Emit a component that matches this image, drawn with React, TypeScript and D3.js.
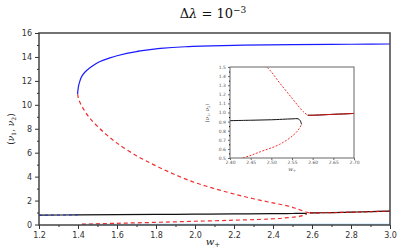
import { useEffect, useRef } from "react";
import * as d3 from "d3";

// upper stable branch (blue)
const wBlue = [1.398, 1.402, 1.41, 1.42, 1.44, 1.47, 1.51, 1.56, 1.6, 1.7, 1.8, 1.95, 2.2, 2.5, 2.8, 3.0];
const nuBlue = [10.9, 11.5, 12.0, 12.4, 12.8, 13.2, 13.6, 13.9, 14.1, 14.45, 14.68, 14.85, 14.97, 15.03, 15.06, 15.08];

// upper unstable branch (red dashed)
const wRedUp = [1.398, 1.405, 1.43, 1.46, 1.5, 1.55, 1.6, 1.7, 1.8, 1.9, 2.0, 2.1, 2.2, 2.3, 2.4, 2.489, 2.521, 2.553, 2.577, 2.588];
const nuRedUp = [10.9, 10.4, 9.6, 8.9, 8.2, 7.45, 6.8, 5.75, 4.9, 4.15, 3.5, 3.0, 2.55, 2.15, 1.8, 1.5, 1.32, 1.14, 1.01, 0.97];

// lower unstable branch (red dashed)
const wRedLow = [1.42, 1.6, 1.8, 2.0, 2.2, 2.34, 2.43, 2.474, 2.52, 2.553, 2.567, 2.573];
const nuRedLow = [0.03, 0.1, 0.18, 0.27, 0.36, 0.43, 0.5, 0.57, 0.65, 0.75, 0.82, 0.87];

// lower stable branch (black)
const wBlack = [1.2, 1.4, 1.6, 1.8, 2.0, 2.2, 2.4, 2.45, 2.5, 2.55, 2.565, 2.57, 2.573];
const nuBlack = [0.78, 0.8, 0.82, 0.84, 0.86, 0.88, 0.91, 0.915, 0.92, 0.93, 0.93, 0.91, 0.87];

// merged branch after the fold
const wMerged = [2.588, 2.6, 2.65, 2.7, 2.8, 2.9, 3.0];
const nuMerged = [0.97, 0.97, 0.98, 0.99, 1.03, 1.07, 1.12];

// trivial branch near zero (light blue)
const wZero = [1.42, 3.0];
const nuZero = [0.02, 0.02];

const xTicks = [1.2, 1.4, 1.6, 1.8, 2.0, 2.2, 2.4, 2.6, 2.8, 3.0];
const yTicks = [0, 2, 4, 6, 8, 10, 12, 14, 16];
const insetXTicks = [2.4, 2.45, 2.5, 2.55, 2.6, 2.65, 2.7];
const insetYTicks = [0.5, 0.6, 0.7, 0.8, 0.9, 1.0, 1.1, 1.2, 1.3, 1.4, 1.5];

const zip = (w: number[], v: number[]) => w.map((d, i) => [d, v[i]] as [number, number]);

function App() {
  const ref = useRef<SVGSVGElement>(null);

  useEffect(() => {
    const svg = d3.select(ref.current);
    svg.selectAll("*").remove();

    const x = d3.scaleLinear().domain([1.2, 3.0]).range([39, 390]);
    const y = d3.scaleLinear().domain([0, 16]).range([224.5, 33]);

    const drawCurves = (g: any, xs: any, ys: any, thin: boolean) => {
      const line = d3.line<[number, number]>().x((d) => xs(d[0])).y((d) => ys(d[1])).curve(d3.curveMonotoneY);
      const lineX = d3.line<[number, number]>().x((d) => xs(d[0])).y((d) => ys(d[1])).curve(d3.curveCatmullRom);
      const sw = thin ? 1 : 1.2;
      g.append("path").datum(zip(wZero, nuZero)).attr("d", lineX)
        .attr("fill", "none").attr("stroke", "#87cefa").attr("stroke-width", sw);
      g.append("path").datum(zip(wBlack, nuBlack)).attr("d", lineX)
        .attr("fill", "none").attr("stroke", "#111").attr("stroke-width", sw);
      g.append("path").datum(zip(wMerged, nuMerged)).attr("d", lineX)
        .attr("fill", "none").attr("stroke", "#111").attr("stroke-width", sw);
      g.append("path").datum(zip(wMerged, nuMerged)).attr("d", lineX)
        .attr("fill", "none").attr("stroke", "#d01010").attr("stroke-width", sw)
        .attr("stroke-dasharray", thin ? null : "4,2");
      g.append("path").datum(zip(wRedLow, nuRedLow)).attr("d", lineX)
        .attr("fill", "none").attr("stroke", "#f03030").attr("stroke-width", sw)
        .attr("stroke-dasharray", thin ? "2,1.5" : "4,3");
      g.append("path").datum(zip(wRedUp, nuRedUp)).attr("d", lineX)
        .attr("fill", "none").attr("stroke", "#f03030").attr("stroke-width", sw)
        .attr("stroke-dasharray", thin ? "2,1.5" : "4,3");
      g.append("path").datum(zip(wBlue, nuBlue)).attr("d", line)
        .attr("fill", "none").attr("stroke", "#1a1aff").attr("stroke-width", sw);
    };

    // main curves
    svg.append("clipPath").attr("id", "mainClip").append("rect")
      .attr("x", 39).attr("y", 33).attr("width", 351).attr("height", 192);
    const main = svg.append("g").attr("clip-path", "url(#mainClip)");
    drawCurves(main, x, y, false);
    // dark blue dashes over the black branch at the left
    main.append("path")
      .datum(zip([1.2, 1.4], [0.78, 0.8]))
      .attr("d", d3.line<[number, number]>().x((d) => x(d[0])).y((d) => y(d[1])))
      .attr("fill", "none").attr("stroke", "#2030c0").attr("stroke-width", 1)
      .attr("stroke-dasharray", "3,3");

    // main frame
    svg.append("rect").attr("x", 39).attr("y", 33).attr("width", 351).attr("height", 192)
      .attr("fill", "none").attr("stroke", "#444").attr("stroke-width", 1.5);

    // main axes
    const xAxis = svg.append("g").attr("transform", "translate(0,225)")
      .call(d3.axisBottom(x).tickValues(xTicks).tickSize(4).tickFormat(d3.format(".1f")));
    svg.append("g").attr("transform", "translate(0,225)")
      .call(d3.axisBottom(x).tickValues(d3.range(1.3, 3.0, 0.2)).tickSize(2).tickFormat(() => ""))
      .call((g: any) => g.select(".domain").remove());
    const yAxis = svg.append("g").attr("transform", "translate(39,0)")
      .call(d3.axisLeft(y).tickValues(yTicks).tickSize(4));
    svg.append("g").attr("transform", "translate(39,0)")
      .call(d3.axisLeft(y).tickValues(d3.range(1, 16, 2)).tickSize(2).tickFormat(() => ""))
      .call((g: any) => g.select(".domain").remove());
    [xAxis, yAxis].forEach((a) => {
      a.select(".domain").remove();
      a.selectAll("text").attr("font-family", "DejaVu Sans").attr("font-size", 8).attr("fill", "#333");
    });
    svg.selectAll(".tick line").attr("stroke", "#333");

    // title and labels
    const title = svg.append("text").attr("x", 213).attr("y", 18).attr("text-anchor", "middle")
      .attr("font-family", "DejaVu Serif").attr("font-size", 13).attr("fill", "#111");
    title.append("tspan").text("Δ");
    title.append("tspan").attr("font-style", "italic").text("λ");
    title.append("tspan").text(" = 10");
    title.append("tspan").attr("dy", -5).attr("font-size", 9).text("−3");

    const xl = svg.append("text").attr("x", 213).attr("y", 245).attr("text-anchor", "middle")
      .attr("font-family", "DejaVu Serif").attr("font-size", 10).attr("fill", "#222");
    xl.append("tspan").attr("font-style", "italic").text("w");
    xl.append("tspan").attr("dy", 2).attr("font-size", 7).text("+");

    const yl = svg.append("text").attr("transform", "translate(14,129) rotate(-90)")
      .attr("text-anchor", "middle").attr("font-family", "DejaVu Serif").attr("font-size", 9).attr("fill", "#222");
    yl.append("tspan").text("(");
    yl.append("tspan").attr("font-style", "italic").text("ν");
    yl.append("tspan").attr("dy", 2).attr("font-size", 6).text("1");
    yl.append("tspan").attr("dy", -2).text(", ");
    yl.append("tspan").attr("font-style", "italic").text("ν");
    yl.append("tspan").attr("dy", 2).attr("font-size", 6).text("2");
    yl.append("tspan").attr("dy", -2).text(")");

    // inset
    const xi = d3.scaleLinear().domain([2.4, 2.7]).range([230, 354]);
    const yi = d3.scaleLinear().domain([0.5, 1.5]).range([158, 67]);
    svg.append("rect").attr("x", 230).attr("y", 67).attr("width", 124).attr("height", 91)
      .attr("fill", "white");
    svg.append("clipPath").attr("id", "insetClip").append("rect")
      .attr("x", 230).attr("y", 67).attr("width", 124).attr("height", 91);
    const inset = svg.append("g").attr("clip-path", "url(#insetClip)");
    drawCurves(inset, xi, yi, true);
    svg.append("rect").attr("x", 230).attr("y", 67).attr("width", 124).attr("height", 91)
      .attr("fill", "none").attr("stroke", "#666").attr("stroke-width", 1);

    const ixAxis = svg.append("g").attr("transform", "translate(0,158)")
      .call(d3.axisBottom(xi).tickValues(insetXTicks).tickSize(2).tickPadding(1).tickFormat(d3.format(".2f")));
    const iyAxis = svg.append("g").attr("transform", "translate(230,0)")
      .call(d3.axisLeft(yi).tickValues(insetYTicks).tickSize(2).tickPadding(2).tickFormat(d3.format(".1f")));
    svg.append("g").attr("transform", "translate(230,0)")
      .call(d3.axisLeft(yi).tickValues(d3.range(0.55, 1.5, 0.1)).tickSize(1).tickFormat(() => ""))
      .call((g: any) => g.select(".domain").remove());
    [ixAxis, iyAxis].forEach((a) => {
      a.select(".domain").remove();
      a.selectAll("text").attr("font-family", "DejaVu Sans").attr("font-size", 4.5).attr("fill", "#555");
      a.selectAll("line").attr("stroke", "#666");
    });

    const ixl = svg.append("text").attr("x", 292).attr("y", 171).attr("text-anchor", "middle")
      .attr("font-family", "DejaVu Serif").attr("font-size", 5.5).attr("fill", "#444");
    ixl.append("tspan").attr("font-style", "italic").text("w");
    ixl.append("tspan").attr("dy", 1).attr("font-size", 3.5).text("+");

    const iyl = svg.append("text").attr("transform", "translate(209,113) rotate(-90)")
      .attr("text-anchor", "middle").attr("font-family", "DejaVu Serif").attr("font-size", 5.5).attr("fill", "#444");
    iyl.append("tspan").text("(");
    iyl.append("tspan").attr("font-style", "italic").text("ν");
    iyl.append("tspan").attr("dy", 1).attr("font-size", 3.5).text("1");
    iyl.append("tspan").attr("dy", -1).text(", ");
    iyl.append("tspan").attr("font-style", "italic").text("ν");
    iyl.append("tspan").attr("dy", 1).attr("font-size", 3.5).text("2");
    iyl.append("tspan").attr("dy", -1).text(")");
  }, []);

  return (
    <svg
      ref={ref}
      width={402}
      height={250}
      style={{ position: "fixed", left: 0, top: 0, background: "white" }}
    />
  );
}

export default App;
